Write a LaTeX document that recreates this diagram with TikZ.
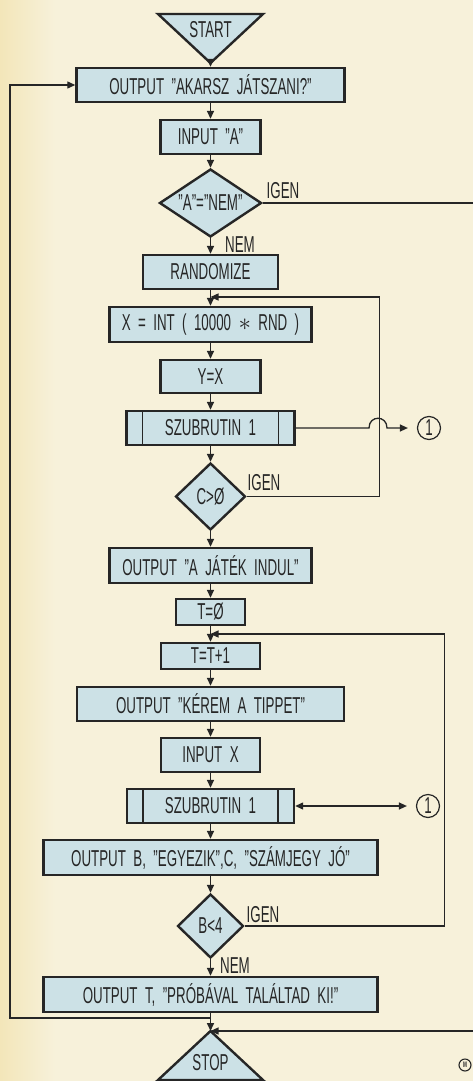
\documentclass[tikz,border=0pt]{standalone}
\usepackage{fontspec}
\setmainfont{Liberation Sans}[FakeStretch=0.58,WordSpace=2]
\usetikzlibrary{shapes.geometric,arrows.meta}
\definecolor{paper}{HTML}{F7F1DA}
\definecolor{oldpaper}{HTML}{F3E6B9}
\definecolor{boxfill}{HTML}{CCE1E6}
\definecolor{ink}{HTML}{262626}
\tikzset{
  chart/.style={font=\fontsize{23}{26}\selectfont,text=ink},
  proc/.style={draw=ink,fill=boxfill,line width=2.4pt,inner sep=0pt,minimum width=#1,minimum height=34pt},
  sub/.style={proc=#1,path picture={
    \draw[ink,line width=1.8pt] ([xshift=16pt]path picture bounding box.north west) -- ([xshift=16pt]path picture bounding box.south west);
    \draw[ink,line width=1.8pt] ([xshift=-16pt]path picture bounding box.north east) -- ([xshift=-16pt]path picture bounding box.south east);}},
  decide/.style 2 args={diamond,aspect=1.5,draw=ink,fill=boxfill,line width=2.4pt,inner sep=0pt,minimum width=#1,minimum height=#2},
  term/.style={draw=ink,fill=boxfill,line width=2.4pt},
  flow/.style={-{Triangle[length=8pt,width=7pt]},ink,line width=1.6pt},
  back/.style={flow,line width=1.3pt},
  both/.style={back,{Triangle[length=8pt,width=7pt]}-{Triangle[length=8pt,width=7pt]}},
  conn/.style={circle,draw=ink,line width=1.2pt,inner sep=0pt,minimum size=23pt},
  tag/.style={inner sep=1pt},
}

\begin{document}
\begin{tikzpicture}[x=1pt,y=-1pt,chart]
\fill[paper] (0,0) rectangle (473,1081);
\shade[left color=oldpaper,right color=paper] (0,0) rectangle (55,1081);
\useasboundingbox (0,0) rectangle (473,1081);
% start
\draw[term] (158,14) -- (263,14) -- (210.5,63) -- cycle;
\node (start) at (210.5,30) {START};
\coordinate (startTip) at (210.5,63);
% first part
\node[proc=268pt] (ask) at (210.5,85) {OUTPUT "AKARSZ JÁTSZANI?"};
\node[proc=100pt] (inA) at (210.5,137) {INPUT "A"};
\node[decide={102pt}{68pt}] (quit) at (210.5,203) {"A"="NEM"};
\node[proc=135pt] (seed) at (210.5,272) {RANDOMIZE};
\node[proc=202pt,minimum height=35pt] (pick) at (210.5,324.5) {X = INT ( 10000 $\ast$ RND )};
\node[proc=100pt,minimum height=33pt] (copyx) at (210.5,376.5) {Y=X};
\node[sub=168pt] (chk1) at (210.5,428) {SZUBRUTIN 1};
\node[decide={70pt}{67pt}] (dup) at (210.5,496.5) {C>Ø};
% game loop
\node[proc=202pt,minimum height=35pt] (go) at (210.5,565.5) {OUTPUT "A JÁTÉK INDUL"};
\node[proc=69pt,minimum height=26pt] (zero) at (210.5,612) {T=Ø};
\node[proc=99pt,minimum height=26pt] (inc) at (210.5,656) {T=T+1};
\node[proc=267pt] (tip) at (210.5,704) {OUTPUT "KÉREM A TIPPET"};
\node[proc=99pt] (inX) at (210.5,755) {INPUT X};
\node[sub=167pt] (chk2) at (210.5,806) {SZUBRUTIN 1};
\node[proc=334pt,minimum height=35pt] (score) at (210.5,857.5) {OUTPUT B, "EGYEZIK",C, "SZÁMJEGY JÓ"};
\node[decide={66pt}{64pt}] (hit) at (210.5,926) {B<4};
\node[proc=334pt,minimum height=35pt] (done) at (210.5,994.5) {OUTPUT T, "PRÓBÁVAL TALÁLTAD KI!"};
% stop
\draw[term] (158,1080) -- (263,1080) -- (210.5,1031) -- cycle;
\node (stop) at (210.5,1063) {STOP};
\coordinate (stopTip) at (210.5,1031);
% connectors and labels
\node[conn] (sub1) at (429,428) {1};
\node[conn] (sub2) at (428,806) {1};
\node[tag] (yes1) at (283,191) {IGEN};
\node[tag] (no1) at (240,244.5) {NEM};
\node[tag] (yes2) at (264,483) {IGEN};
\node[tag] (yes3) at (263,915) {IGEN};
\node[tag] (no3) at (235,965.5) {NEM};
\node[circle,draw=ink,line width=1.1pt,inner sep=0pt,minimum size=12pt,font=\fontsize{8}{8}\selectfont\bfseries] (mark) at (465,1065) {M};
\coordinate (j1) at (210.5,297);
\coordinate (j2) at (210.5,634);
\coordinate (j3) at (210.5,1018);
\draw[flow] (startTip) -- (ask.north);
\foreach \a/\b in {ask/inA,inA/quit,quit/seed,seed/pick,pick/copyx,copyx/chk1,chk1/dup,dup/go,
  go/zero,zero/inc,inc/tip,tip/inX,inX/chk2,chk2/score,score/hit,hit/done}
  \draw[flow] (\a.south) -- (\b.north);
\draw[flow] (done.south) -- (stopTip);
\draw[back] (dup.east) -- ++(133,0) |- (j1);
\draw[back] (hit.east) -- ++(199.5,0) |- (j2);
\draw[back] (j3) -- ++(-200.5,0) |- (ask.west);
\draw[back] (quit.east) -- ++(270,0) |- (stopTip);
\draw[back,shorten >=9pt] (chk1.east) -- (369,428) .. controls (369,415) and (387,415) .. (387,428) -- (sub1.west);
\draw[both,shorten >=9pt] (chk2.east) -- (sub2.west);
\end{tikzpicture}
\end{document}
